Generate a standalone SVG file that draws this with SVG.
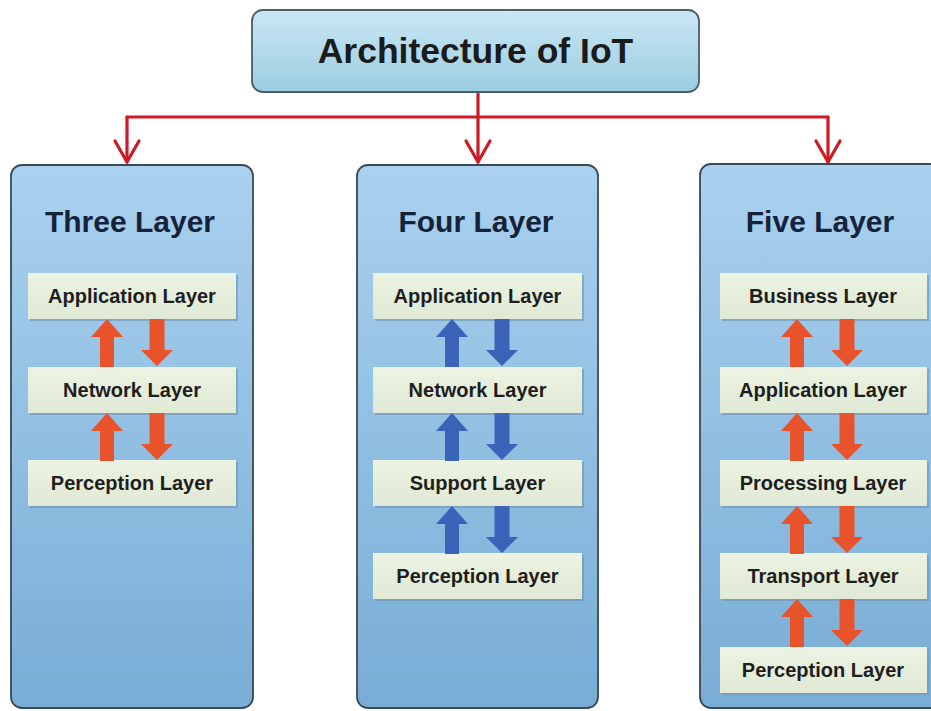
<svg xmlns="http://www.w3.org/2000/svg" xmlns:xlink="http://www.w3.org/1999/xlink" width="931" height="711" viewBox="0 0 931 711">
  <style>
    .title { font-family: "Liberation Sans", Arial, sans-serif; font-weight: bold; font-size: 35.5px; fill: #1b1b1b; text-anchor: middle; }
    .ptitle { font-family: "Liberation Sans", Arial, sans-serif; font-weight: bold; font-size: 30px; fill: #15233a; text-anchor: middle; }
    .label { font-family: "Liberation Sans", Arial, sans-serif; font-weight: bold; font-size: 20px; fill: #1e1e1e; text-anchor: middle; }
    .panel { fill: url(#panelGrad); stroke: #3b4856; stroke-width: 1.8; }
    .topbox { fill: url(#topGrad); stroke: #4d5b66; stroke-width: 1.8; }
    .layer { fill: url(#layerGrad); }
    .layershadow { fill: #6f93b3; opacity: 0.6; }
    .conn { fill: none; stroke: #cc1a26; stroke-width: 3.2; stroke-linecap: round; stroke-linejoin: round; }
    .orange { fill: #e9532b; }
    .blue { fill: #3b63b7; }
  </style>
  <defs>
    <linearGradient id="panelGrad" x1="0" y1="0" x2="0" y2="1">
      <stop offset="0" stop-color="#aad1ef"/>
      <stop offset="1" stop-color="#79add5"/>
    </linearGradient>
    <linearGradient id="topGrad" x1="0" y1="0" x2="0" y2="1">
      <stop offset="0" stop-color="#cae7f3"/>
      <stop offset="1" stop-color="#9bcde2"/>
    </linearGradient>
    <linearGradient id="layerGrad" x1="0" y1="0" x2="0" y2="1">
      <stop offset="0" stop-color="#ecf3e2"/>
      <stop offset="1" stop-color="#dfe9d4"/>
    </linearGradient>
    <path id="up" d="M0,0 L16,18 L7,18 L7,48 L-7,48 L-7,18 L-16,18 Z"/>
    <path id="down" d="M-7.5,0 L7.5,0 L7.5,31 L16,31 L0,47 L-16,31 L-7.5,31 Z"/>
    <path id="chev" d="M-12,-21 L0,0 L12,-21"/>
  </defs>

  <rect width="931" height="711" fill="#ffffff"/>

  <g id="connectors">
    <path class="conn" d="M478,92 L478,162"/>
    <path class="conn" d="M127,117 L828,117"/>
    <path class="conn" d="M127,117 L127,162"/>
    <path class="conn" d="M828,117 L828,162"/>
    <use href="#chev" x="478" y="162" class="conn"/>
    <use href="#chev" x="127" y="162" class="conn"/>
    <use href="#chev" x="828" y="162" class="conn"/>
  </g>

  <g id="root">
    <rect class="topbox" x="252" y="10" width="447" height="82" rx="11"/>
    <text class="title" x="475.5" y="63">Architecture of IoT</text>
  </g>

  <g id="three-layer">
    <rect class="panel" x="11" y="165" width="242" height="543" rx="11"/>
    <text class="ptitle" x="130" y="232">Three Layer</text>
    <g id="three-application">
      <rect class="layershadow" x="30" y="275" width="208" height="46"/>
      <rect class="layer" x="28" y="273" width="208" height="46"/>
      <text class="label" x="132" y="303">Application Layer</text>
    </g>
    <g id="three-network">
      <rect class="layershadow" x="30" y="369" width="208" height="46"/>
      <rect class="layer" x="28" y="367" width="208" height="46"/>
      <text class="label" x="132" y="397">Network Layer</text>
    </g>
    <g id="three-perception">
      <rect class="layershadow" x="30" y="462" width="208" height="46"/>
      <rect class="layer" x="28" y="460" width="208" height="46"/>
      <text class="label" x="132" y="490">Perception Layer</text>
    </g>
    <use href="#up" x="107" y="319" class="orange"/>
    <use href="#down" x="157" y="319" class="orange"/>
    <use href="#up" x="107" y="413" class="orange"/>
    <use href="#down" x="157" y="413" class="orange"/>
  </g>

  <g id="four-layer">
    <rect class="panel" x="357" y="165" width="241" height="543" rx="11"/>
    <text class="ptitle" x="476" y="232">Four Layer</text>
    <g id="four-application">
      <rect class="layershadow" x="375" y="275" width="209" height="46"/>
      <rect class="layer" x="373" y="273" width="209" height="46"/>
      <text class="label" x="477.5" y="303">Application Layer</text>
    </g>
    <g id="four-network">
      <rect class="layershadow" x="375" y="369" width="209" height="46"/>
      <rect class="layer" x="373" y="367" width="209" height="46"/>
      <text class="label" x="477.5" y="397">Network Layer</text>
    </g>
    <g id="four-support">
      <rect class="layershadow" x="375" y="462" width="209" height="46"/>
      <rect class="layer" x="373" y="460" width="209" height="46"/>
      <text class="label" x="477.5" y="490">Support Layer</text>
    </g>
    <g id="four-perception">
      <rect class="layershadow" x="375" y="555" width="209" height="46"/>
      <rect class="layer" x="373" y="553" width="209" height="46"/>
      <text class="label" x="477.5" y="583">Perception Layer</text>
    </g>
    <use href="#up" x="452" y="319" class="blue"/>
    <use href="#down" x="502" y="319" class="blue"/>
    <use href="#up" x="452" y="413" class="blue"/>
    <use href="#down" x="502" y="413" class="blue"/>
    <use href="#up" x="452" y="506" class="blue"/>
    <use href="#down" x="502" y="506" class="blue"/>
  </g>

  <g id="five-layer">
    <rect class="panel" x="700" y="164" width="250" height="544" rx="11"/>
    <text class="ptitle" x="820" y="232">Five Layer</text>
    <g id="five-business">
      <rect class="layershadow" x="722" y="275" width="207" height="46"/>
      <rect class="layer" x="720" y="273" width="207" height="46"/>
      <text class="label" x="823" y="303">Business Layer</text>
    </g>
    <g id="five-application">
      <rect class="layershadow" x="722" y="369" width="207" height="46"/>
      <rect class="layer" x="720" y="367" width="207" height="46"/>
      <text class="label" x="823" y="397">Application Layer</text>
    </g>
    <g id="five-processing">
      <rect class="layershadow" x="722" y="462" width="207" height="46"/>
      <rect class="layer" x="720" y="460" width="207" height="46"/>
      <text class="label" x="823" y="490">Processing Layer</text>
    </g>
    <g id="five-transport">
      <rect class="layershadow" x="722" y="555" width="207" height="46"/>
      <rect class="layer" x="720" y="553" width="207" height="46"/>
      <text class="label" x="823" y="583">Transport Layer</text>
    </g>
    <g id="five-perception">
      <rect class="layershadow" x="722" y="649" width="207" height="46"/>
      <rect class="layer" x="720" y="647" width="207" height="46"/>
      <text class="label" x="823" y="677">Perception Layer</text>
    </g>
    <use href="#up" x="797" y="319" class="orange"/>
    <use href="#down" x="847" y="319" class="orange"/>
    <use href="#up" x="797" y="413" class="orange"/>
    <use href="#down" x="847" y="413" class="orange"/>
    <use href="#up" x="797" y="506" class="orange"/>
    <use href="#down" x="847" y="506" class="orange"/>
    <use href="#up" x="797" y="599" class="orange"/>
    <use href="#down" x="847" y="599" class="orange"/>
  </g>
</svg>
